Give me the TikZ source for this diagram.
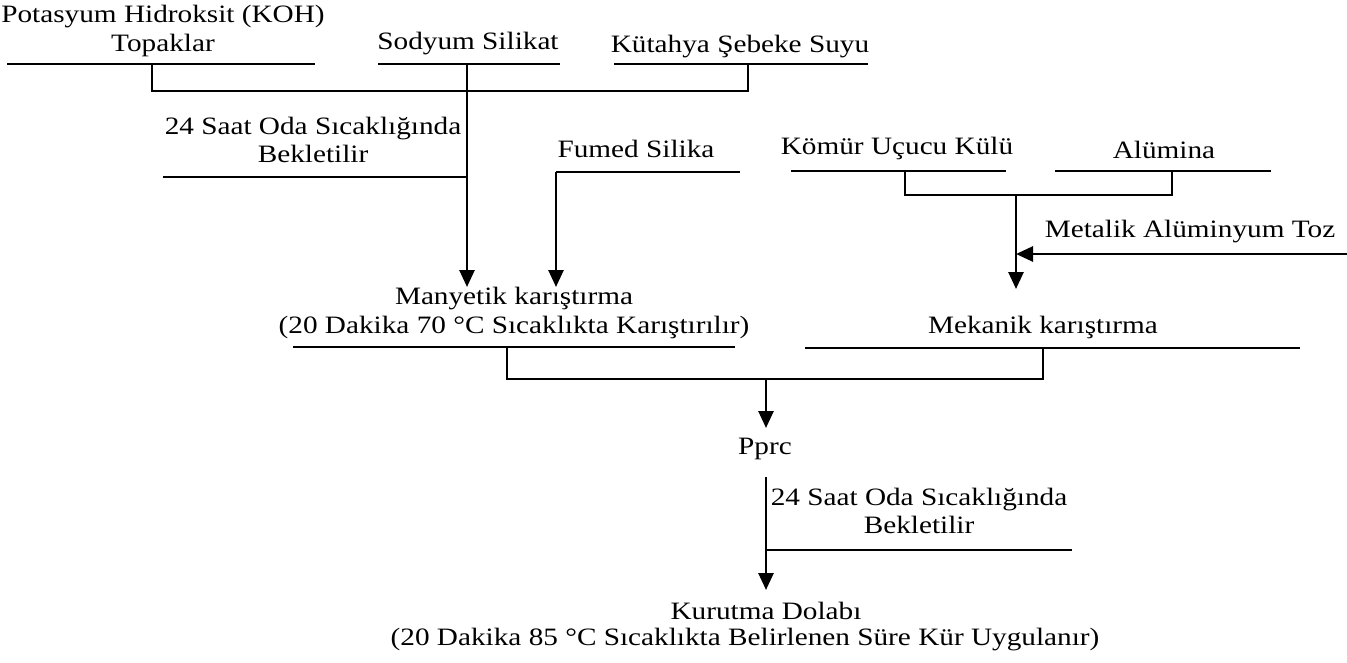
\documentclass[tikz,border=0pt]{standalone}
\usepackage{fontspec}
\setmainfont[FakeStretch=1.17]{Liberation Serif}
\usetikzlibrary{arrows.meta}
\begin{document}
\begin{tikzpicture}[x=1pt,y=-1pt,
 ln/.style={line width=2.7pt,line join=miter},
 arr/.style={line width=2.7pt,-{Triangle[width=15pt,length=17pt]}},
 lbl/.style={font=\fontsize{25}{28.5}\selectfont,align=center,inner sep=0pt}]
\useasboundingbox (0,0) rectangle (1347,662);
% text nodes
\node[lbl] (koh) at (163,31) {Potasyum Hidroksit (KOH)\\Topaklar};
\node[lbl] (sod) at (468,44) {Sodyum Silikat};
\node[lbl] (kut) at (740,47) {Kütahya Şebeke Suyu};
\node[lbl] (bek1) at (313,140) {24 Saat Oda Sıcaklığında\\Bekletilir};
\node[lbl] (fum) at (636,149) {Fumed Silika};
\node[lbl] (kom) at (897,148) {Kömür Uçucu Külü};
\node[lbl] (alu) at (1164,150) {Alümina};
\node[lbl] (met) at (1190,232) {Metalik Alüminyum Toz};
\node[lbl] (many) at (514,313) {Manyetik karıştırma\\(20 Dakika 70 °C Sıcaklıkta Karıştırılır)};
\node[lbl] (mek) at (1043,327) {Mekanik karıştırma};
\node[lbl] (pprc) at (765,449) {Pprc};
\node[lbl] (bek2) at (919,511) {24 Saat Oda Sıcaklığında\\Bekletilir};
\node[lbl] (kur1) at (766,611) {Kurutma Dolabı};
\node[lbl] (kur2) at (745,640) {(20 Dakika 85 °C Sıcaklıkta Belirlenen Süre Kür Uygulanır)};
% coordinates
\coordinate (kohL) at (7,64);   \coordinate (kohR) at (315,64);
\coordinate (sodL) at (378,64); \coordinate (sodR) at (560,64);
\coordinate (kutL) at (614,64); \coordinate (kutR) at (868,64);
\coordinate (kohD) at (152,64); \coordinate (kohB) at (152,91);
\coordinate (kutD) at (748,64); \coordinate (kutB) at (748,91);
\coordinate (sodD) at (467,64); \coordinate (manyA) at (467,287);
\coordinate (bek1L) at (163,177); \coordinate (bek1R) at (467,177);
\coordinate (fumL) at (556,172); \coordinate (fumR) at (740,172);
\coordinate (manyB) at (556,287);
\coordinate (komL) at (791,171); \coordinate (komR) at (1006,171);
\coordinate (aluL) at (1055,171); \coordinate (aluR) at (1271,171);
\coordinate (komD) at (905,171); \coordinate (komB) at (905,195);
\coordinate (aluD) at (1172,171); \coordinate (aluB) at (1172,195);
\coordinate (mixT) at (1016,195); \coordinate (mekA) at (1016,289);
\coordinate (metR) at (1347,254); \coordinate (metA) at (1016,254);
\coordinate (manyL) at (293,347); \coordinate (manyR) at (735,347);
\coordinate (mekL) at (805,348); \coordinate (mekR) at (1300,348);
\coordinate (manyD) at (507,347); \coordinate (manyE) at (507,379);
\coordinate (mekD) at (1043,348); \coordinate (mekE) at (1043,379);
\coordinate (joinT) at (766,379); \coordinate (pprcA) at (766,428);
\coordinate (pprcD) at (766,477); \coordinate (kurA) at (766,590);
\coordinate (bek2L) at (766,550); \coordinate (bek2R) at (1072,550);
% lines
\draw[ln] (kohL) -- (kohR);
\draw[ln] (sodL) -- (sodR);
\draw[ln] (kutL) -- (kutR);
\draw[ln] (kohD) -- (kohB) -- (kutB) -- (kutD);
\draw[arr] (sodD) -- (manyA);
\draw[ln] (bek1L) -- (bek1R);
\draw[ln] (fumR) -- (fumL);
\draw[arr] (fumL) -- (manyB);
\draw[ln] (komL) -- (komR);
\draw[ln] (aluL) -- (aluR);
\draw[ln] (komD) -- (komB) -- (aluB) -- (aluD);
\draw[arr] (mixT) -- (mekA);
\draw[arr] (metR) -- (metA);
\draw[ln] (manyL) -- (manyR);
\draw[ln] (mekL) -- (mekR);
\draw[ln] (manyD) -- (manyE) -- (mekE) -- (mekD);
\draw[arr] (joinT) -- (pprcA);
\draw[arr] (pprcD) -- (kurA);
\draw[ln] (bek2L) -- (bek2R);
\end{tikzpicture}
\end{document}
